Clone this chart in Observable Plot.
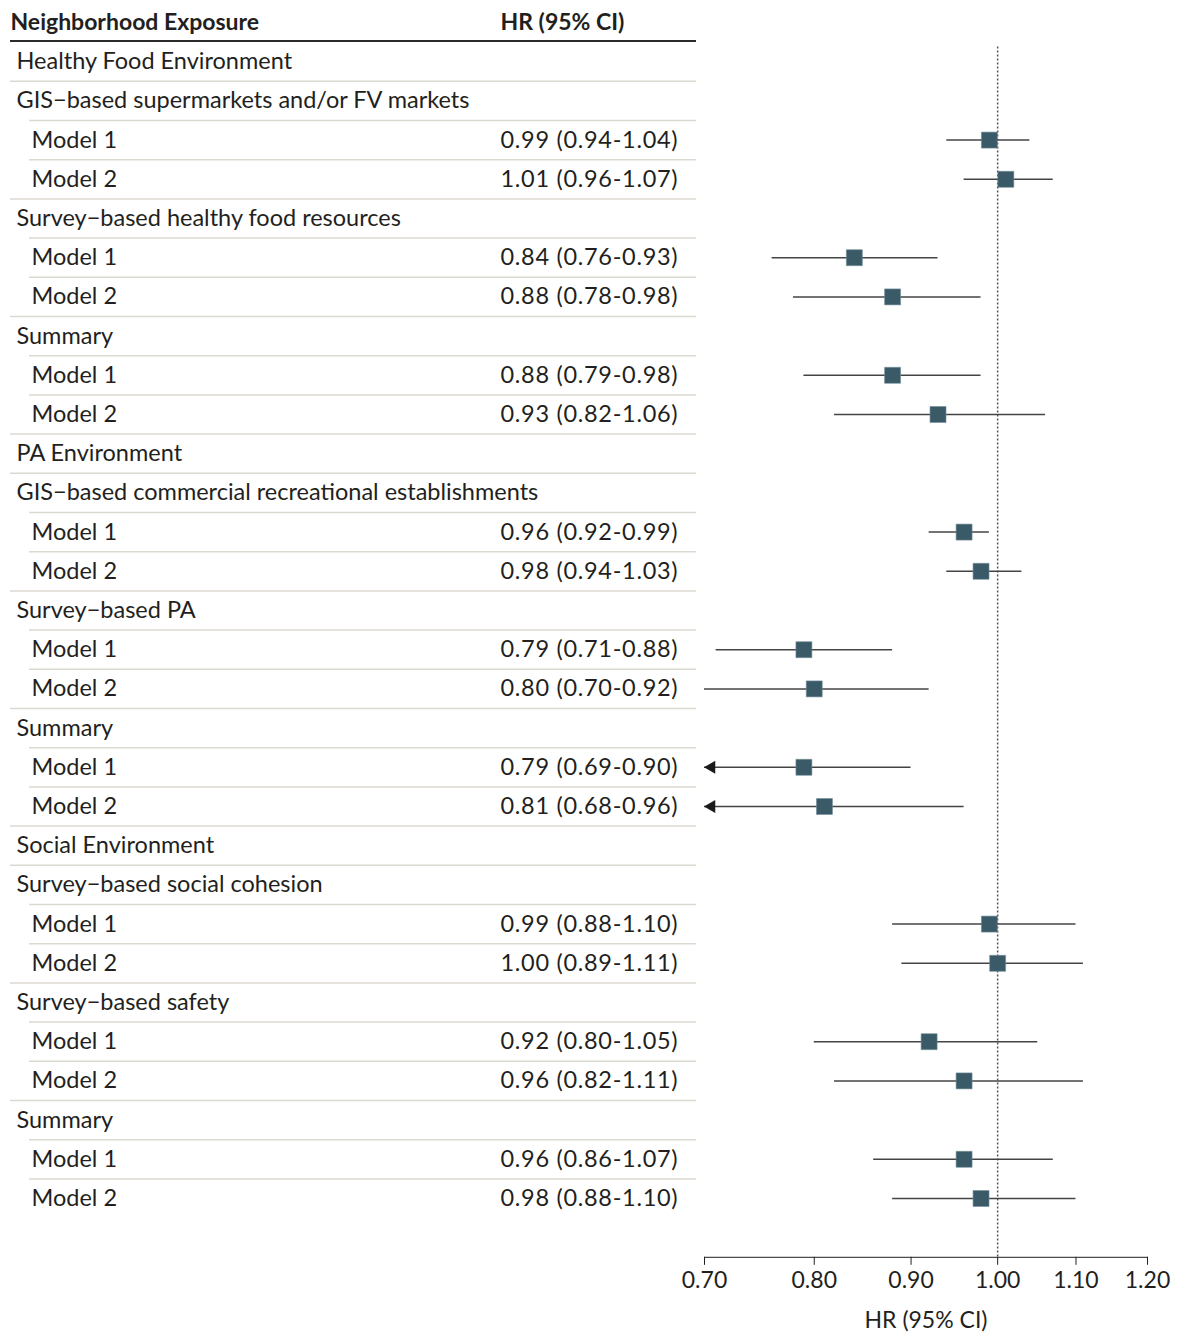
<!DOCTYPE html>
<html><head><meta charset="utf-8">
<script src="https://cdn.jsdelivr.net/npm/d3@7"></script>
<script src="https://cdn.jsdelivr.net/npm/@observablehq/plot@0.6"></script>
<style>
body{margin:0;background:#fff}
#wrap{position:relative;width:1184px;height:1332px;background:#fff}
#wrap svg{position:absolute;left:0;top:0}
</style></head><body><div id="wrap"></div>
<script>
const rowLabels = [
  "Healthy Food Environment",
  "GIS\u2212based supermarkets and/or FV markets", "Model 1", "Model 2",
  "Survey\u2212based healthy food resources", "Model 1", "Model 2",
  "Summary", "Model 1", "Model 2",
  "PA Environment",
  "GIS\u2212based commercial recreational establishments", "Model 1", "Model 2",
  "Survey\u2212based PA", "Model 1", "Model 2",
  "Summary", "Model 1", "Model 2",
  "Social Environment",
  "Survey\u2212based social cohesion", "Model 1", "Model 2",
  "Survey\u2212based safety", "Model 1", "Model 2",
  "Summary", "Model 1", "Model 2"
];
const rowTypes = [
  "cat",
  "sub","model","model",
  "sub","model","model",
  "sub","model","model",
  "cat",
  "sub","model","model",
  "sub","model","model",
  "sub","model","model",
  "cat",
  "sub","model","model",
  "sub","model","model",
  "sub","model","model"
];
const hrValues = [null, null,0.99,1.01, null,0.84,0.88, null,0.88,0.93, null, null,0.96,0.98, null,0.79,0.80, null,0.79,0.81, null, null,0.99,1.00, null,0.92,0.96, null,0.96,0.98];
const ciLower  = [null, null,0.94,0.96, null,0.76,0.78, null,0.79,0.82, null, null,0.92,0.94, null,0.71,0.70, null,0.69,0.68, null, null,0.88,0.89, null,0.80,0.82, null,0.86,0.88];
const ciUpper  = [null, null,1.04,1.07, null,0.93,0.98, null,0.98,1.06, null, null,0.99,1.03, null,0.88,0.92, null,0.90,0.96, null, null,1.10,1.11, null,1.05,1.11, null,1.07,1.10];
const xTicks = [0.70, 0.80, 0.90, 1.00, 1.10, 1.20];
const headerLabels = ["Neighborhood Exposure", "HR (95% CI)"];
const axisLabel = "HR (95% CI)";

const rows = rowLabels.map((label, i) => ({
  i, label, type: rowTypes[i], hr: hrValues[i], lo: ciLower[i], hi: ciUpper[i],
  hrText: hrValues[i] == null ? "" : `${hrValues[i].toFixed(2)} (${ciLower[i].toFixed(2)}-${ciUpper[i].toFixed(2)})`
}));
const models = rows.filter(d => d.type === "model");

const FONT = "Lato, Roboto, 'Noto Sans', sans-serif";
const TEXT = "#231f20";
const SEP = "#dcd9d0";
const W = 1184, H = 1332, STEP = 39.2;

// Table (left)
const tTop = 2.4;
const table = Plot.plot({
  width: W, height: H,
  marginTop: tTop, marginBottom: H - tTop - 31 * STEP,
  marginLeft: 10, marginRight: W - 696,
  style: {fontFamily: FONT, fontSize: "23.5px", background: "transparent", color: TEXT},
  y: {type: "band", domain: d3.range(-1, 30), padding: 0, round: false, axis: null},
  marks: [
    Plot.text([headerLabels[0]], {y: () => -1, text: d => d, frameAnchor: "left", textAnchor: "start", dx: 0, fill: TEXT, fontWeight: 700, fontSize: 23}),
    Plot.text([headerLabels[1]], {y: () => -1, text: d => d, frameAnchor: "left", textAnchor: "start", dx: 490, fill: TEXT, fontWeight: 700, fontSize: 23}),
    Plot.ruleY([-1], {dy: STEP / 2 - 1, stroke: "#2b2b2b", strokeWidth: 2}),
    Plot.ruleY(rows.filter(d => d.i < 29 && (d.type === "cat" || (d.type === "model" && rowLabels[d.i] === "Model 2"))), {y: "i", dy: STEP / 2, stroke: SEP, strokeWidth: 1.5}),
    Plot.ruleY(rows.filter(d => d.i < 29 && (d.type === "sub" || (d.type === "model" && rowLabels[d.i] === "Model 1"))), {y: "i", dy: STEP / 2, stroke: SEP, strokeWidth: 1.5, insetLeft: 19}),
    Plot.text(rows.filter(d => d.type !== "model"), {y: "i", text: "label", frameAnchor: "left", textAnchor: "start", dx: 6, fill: TEXT}),
    Plot.text(models, {y: "i", text: "label", frameAnchor: "left", textAnchor: "start", dx: 21, fill: TEXT}),
    Plot.text(models, {y: "i", text: "hrText", frameAnchor: "left", textAnchor: "start", dx: 490, fill: TEXT})
  ]
});
// widen the HR column's spacing slightly to match the reference type
const textGroups = table.querySelectorAll('g[aria-label="text"]');
if (textGroups.length) textGroups[textGroups.length - 1].setAttribute("letter-spacing", "0.7");

// Forest (right)
const fTop = 41.6;
const forest = Plot.plot({
  width: W, height: H,
  marginTop: fTop, marginBottom: H - fTop - 31 * STEP,
  marginLeft: 704, marginRight: W - 1147,
  style: {fontFamily: FONT, fontSize: "23px", background: "transparent", color: TEXT},
  y: {type: "band", domain: d3.range(31), padding: 0, round: false, axis: null},
  x: {type: "log", domain: [0.7, 1.2], clamp: true, ticks: xTicks, tickFormat: d3.format(".2f"),
      tickSize: 8, tickPadding: 6, label: axisLabel, labelAnchor: "center", labelOffset: 71, labelArrow: "none", line: true},
  marks: [
    Plot.ruleX([1], {stroke: "#555", strokeDasharray: "2,2", strokeWidth: 1.5, insetTop: 5}),
    Plot.ruleY(models, {y: "i", x1: "lo", x2: "hi", stroke: "#444", strokeWidth: 1.5}),
    Plot.dot(models.filter(d => d.lo < 0.7), {y: "i", x: () => 0.7, symbol: "triangle", rotate: -90, r: 4.8, dx: 7, fill: "#1a1a1a", stroke: "none"}),
    Plot.dot(models, {y: "i", x: "hr", symbol: "square", r: 9, fill: "#3a5a68", stroke: "#6f8a95", strokeWidth: 0.6})
  ]
});

document.getElementById("wrap").append(table, forest);
</script></body></html>
